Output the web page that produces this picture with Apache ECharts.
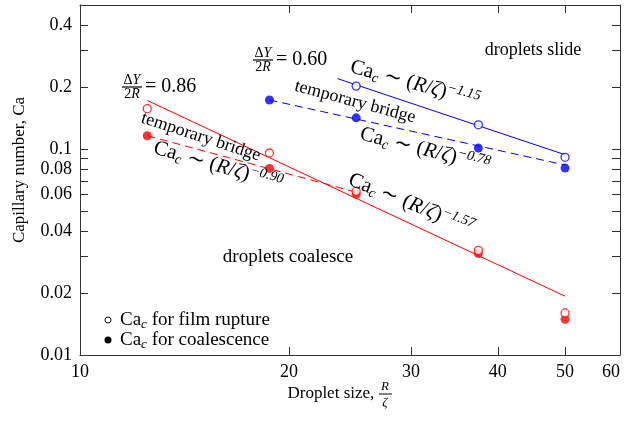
<!DOCTYPE html>
<html><head><meta charset="utf-8">
<script src="https://cdn.jsdelivr.net/npm/echarts@6/dist/echarts.min.js"></script>
<style>html,body{margin:0;padding:0;background:#fff}#c{width:629px;height:422px}</style>
</head><body><div id="c"></div>
<script>
// ---- data ----
const dropletSize = [12.5, 18.75, 25, 37.5, 50];
const redRupture = [0.157, 0.0956, 0.0624, 0.0322, 0.0160];
const redCoalesce = [0.116, 0.0805, 0.0603, 0.0311, 0.0149];
const blueRuptureX = [25, 37.5, 50];
const blueRupture = [0.202, 0.131, 0.0911];
const blueCoalesceX = [18.75, 25, 37.5, 50];
const blueCoalesce = [0.173, 0.1416, 0.101, 0.0808];
const redFitX = [12.5, 50];     const redFit = [0.172, 0.0193];
const redBridgeX = [12.5, 25];  const redBridge = [0.116, 0.0617];
const blueFitX = [23.5, 50];    const blueFit = [0.2196, 0.0938];
const blueBridgeX = [18.75, 50]; const blueBridge = [0.173, 0.0836];
const xTicks = [10, 20, 30, 40, 50, 60];
const yTicks = [0.01, 0.02, 0.03, 0.04, 0.05, 0.06, 0.07, 0.08, 0.09, 0.1, 0.2, 0.3, 0.4];
const yLabels = [0.01, 0.02, 0.04, 0.06, 0.08, 0.1, 0.2, 0.4];

const FONT = 'Liberation Serif, Times New Roman, serif';
const RED = '#ff0000', BLUE = '#0000ff', AXIS = '#333';
const zip = (xs, ys) => xs.map((x, i) => [x, ys[i]]);

function axisBase(pos, ticks, labels, isX) {
  return {
    type: 'log', logBase: 10, position: pos,
    min: isX ? 10 : 0.01, max: isX ? 60 : 0.5,
    axisLine: { show: true, onZero: false, lineStyle: { color: AXIS, width: 1 } },
    axisTick: { show: true, inside: true, length: 8, customValues: ticks, lineStyle: { color: AXIS } },
    minorTick: { show: false },
    axisLabel: labels ? {
      show: true, customValues: labels, fontFamily: FONT, fontSize: 18, color: '#000',
      margin: 8, alignMaxLabel: isX ? 'right' : null,
      formatter: v => String(Number((+v).toPrecision(3)))
    } : { show: false },
    splitLine: { show: false }
  };
}

const RICH = {
  n: { fontFamily: FONT, fontSize: 19, fill: '#000' },
  sub: { fontFamily: FONT, fontSize: 13, fontStyle: 'italic', fill: '#000', padding: [9, 0, 0, 0] },
  fn: { fontFamily: FONT, fontSize: 21, fill: '#000' },
  fi: { fontFamily: FONT, fontSize: 21, fontStyle: 'italic', fill: '#000' },
  fsub: { fontFamily: FONT, fontSize: 14, fontStyle: 'italic', fill: '#000', padding: [10, 0, 0, 0] },
  fsup: { fontFamily: FONT, fontSize: 14, fontStyle: 'italic', fill: '#000', padding: [0, 0, 10, 0] },
  s: { fontFamily: FONT, fontSize: 14, fill: '#000' },
  si: { fontFamily: FONT, fontSize: 14, fontStyle: 'italic', fill: '#000' }
};
const formula = e => '{fn|Ca}{fsub|c}{fn| ∼ (}{fi|R}{fn|/}{fi|ζ}{fn|)}{fsup|' + e + '}';
function rotText(x, y, deg, text, size) {
  return { type: 'text', x: x, y: y, rotation: -deg * Math.PI / 180, z: 100,
    style: { text: text, rich: RICH, fontFamily: FONT, fontSize: size || 19, fill: '#000', align: 'center', verticalAlign: 'middle' } };
}
function fraction(cx, cy, valueText) {
  return [
    { type: 'text', x: cx, y: cy - 7, z: 100, style: { text: '{s|Δ}{si|Y}', rich: RICH, align: 'center', verticalAlign: 'middle' } },
    { type: 'line', z: 100, shape: { x1: cx - 10, y1: cy, x2: cx + 10, y2: cy }, style: { stroke: '#000', lineWidth: 1.2 } },
    { type: 'text', x: cx, y: cy + 7, z: 100, style: { text: '{s|2}{si|R}', rich: RICH, align: 'center', verticalAlign: 'middle' } },
    { type: 'text', x: cx + 13, y: cy, z: 100, style: { text: '= ' + valueText, fontFamily: FONT, fontSize: 20, fill: '#000', align: 'left', verticalAlign: 'middle' } }
  ];
}

const graphics = [].concat(
  fraction(132, 87, '0.86'),
  fraction(263, 60, '0.60'),
  [
    { type: 'text', x: 533, y: 50, z: 100, style: { text: 'droplets slide', fontFamily: FONT, fontSize: 18, fill: '#000', align: 'center', verticalAlign: 'middle' } },
    { type: 'text', x: 288, y: 257, z: 100, style: { text: 'droplets coalesce', fontFamily: FONT, fontSize: 19, fill: '#000', align: 'center', verticalAlign: 'middle' } },
    rotText(201, 137, 18, 'temporary bridge', 18),
    rotText(218, 166, 16, formula('−0.90')),
    rotText(355, 102, 15, 'temporary bridge', 18),
    rotText(415, 84, 15, formula('−1.15')),
    rotText(425, 150, 14, formula('−0.78')),
    rotText(411, 204, 22, formula('−1.57')),
    // legend
    { type: 'circle', z: 100, shape: { cx: 108, cy: 320, r: 3 }, style: { fill: '#fff', stroke: '#000', lineWidth: 1 } },
    { type: 'text', x: 120, y: 320, z: 100, style: { text: '{n|Ca}{sub|c}{n| for film rupture}', rich: RICH, align: 'left', verticalAlign: 'middle' } },
    { type: 'circle', z: 100, shape: { cx: 108, cy: 340, r: 3.5 }, style: { fill: '#000' } },
    { type: 'text', x: 120, y: 340, z: 100, style: { text: '{n|Ca}{sub|c}{n| for coalescence}', rich: RICH, align: 'left', verticalAlign: 'middle' } },
    // axis names
    { type: 'text', x: 20, y: 170, rotation: Math.PI / 2, z: 100, style: { text: 'Capillary number, Ca', fontFamily: FONT, fontSize: 17, fill: '#000', align: 'center', verticalAlign: 'middle' } },
    { type: 'text', x: 333, y: 394, z: 100, style: { text: 'Droplet size, ', fontFamily: FONT, fontSize: 17, fill: '#000', align: 'center', verticalAlign: 'middle' } },
    { type: 'text', x: 385, y: 387, z: 100, style: { text: 'R', fontFamily: FONT, fontSize: 13, fontStyle: 'italic', fill: '#000', align: 'center', verticalAlign: 'middle' } },
    { type: 'line', z: 100, shape: { x1: 379, y1: 394, x2: 392, y2: 394 }, style: { stroke: '#000', lineWidth: 1 } },
    { type: 'text', x: 385, y: 403, z: 100, style: { text: 'ζ', fontFamily: FONT, fontSize: 13, fontStyle: 'italic', fill: '#000', align: 'center', verticalAlign: 'middle' } }
  ]
);

const openSym = c => ({ color: '#fff', borderColor: c, borderWidth: 1.3 });
const option = {
  animation: false,
  backgroundColor: '#fff',
  grid: { left: 80, right: 9, top: 5, bottom: 67 },
  xAxis: [axisBase('bottom', xTicks, xTicks, true), axisBase('top', xTicks, null, true)],
  yAxis: [axisBase('left', yTicks, yLabels, false), axisBase('right', yTicks, null, false)],
  series: [
    { type: 'line', data: zip(redFitX, redFit), showSymbol: false, lineStyle: { color: RED, width: 1 }, z: 2 },
    { type: 'line', data: zip(redBridgeX, redBridge), showSymbol: false, lineStyle: { color: RED, width: 1, type: [8, 5] }, z: 2 },
    { type: 'line', data: zip(blueFitX, blueFit), showSymbol: false, lineStyle: { color: BLUE, width: 1 }, z: 2 },
    { type: 'line', data: zip(blueBridgeX, blueBridge), showSymbol: false, lineStyle: { color: BLUE, width: 1, type: [8, 5] }, z: 2 },
    { type: 'scatter', data: zip(dropletSize, redCoalesce), symbol: 'circle', symbolSize: 9, itemStyle: { color: RED }, z: 3 },
    { type: 'scatter', data: zip(blueCoalesceX, blueCoalesce), symbol: 'circle', symbolSize: 9, itemStyle: { color: BLUE }, z: 3 },
    { type: 'scatter', data: zip(dropletSize, redRupture), symbol: 'circle', symbolSize: 8, itemStyle: openSym(RED), z: 4 },
    { type: 'scatter', data: zip(blueRuptureX, blueRupture), symbol: 'circle', symbolSize: 8, itemStyle: openSym(BLUE), z: 4 }
  ],
  graphic: graphics
};
const chart = echarts.init(document.getElementById('c'), null, { renderer: 'canvas' });
chart.setOption(option);
</script></body></html>
